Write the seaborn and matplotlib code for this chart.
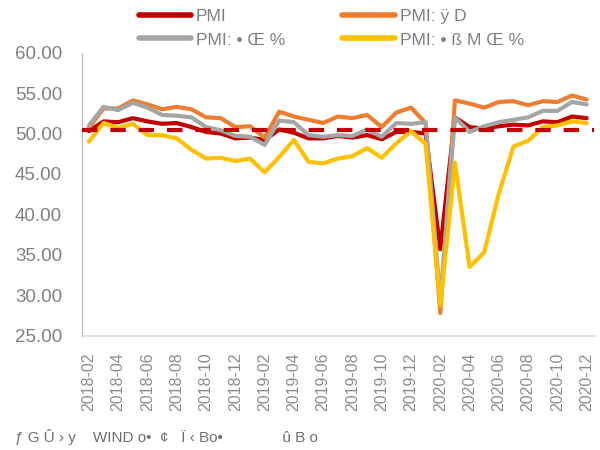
import matplotlib
matplotlib.use("Agg")
import matplotlib.pyplot as plt
import seaborn as sns
import pandas as pd
import numpy as np
from matplotlib.lines import Line2D

months = [f"{y}-{m:02d}" for y in (2018, 2019, 2020) for m in range(1, 13)][1:]

pmi = [50.3, 51.5, 51.4, 51.9, 51.5, 51.2, 51.3, 50.8, 50.2, 50.0, 49.4,
       49.5, 49.2, 50.5, 50.1, 49.4, 49.4, 49.7, 49.5, 49.8, 49.3, 50.2, 50.2,
       50.0, 35.7, 52.0, 50.8, 50.6, 50.9, 51.1, 51.0, 51.5, 51.4, 52.1, 51.9]
production = [50.7, 53.1, 53.1, 54.1, 53.6, 53.0, 53.3, 53.0, 52.0, 51.9, 50.8,
              50.9, 49.5, 52.7, 52.1, 51.7, 51.3, 52.1, 51.9, 52.3, 50.8, 52.6, 53.2,
              51.3, 27.8, 54.1, 53.7, 53.2, 53.9, 54.0, 53.5, 54.0, 53.9, 54.7, 54.2]
new_orders = [51.0, 53.3, 52.9, 53.8, 53.2, 52.3, 52.2, 52.0, 50.8, 50.4, 49.7,
              49.6, 48.6, 51.6, 51.4, 49.8, 49.6, 49.8, 49.7, 50.5, 49.6, 51.3, 51.2,
              51.4, 29.3, 52.0, 50.2, 50.9, 51.4, 51.7, 52.0, 52.8, 52.8, 53.9, 53.6]
export_orders = [49.0, 51.3, 50.7, 51.2, 49.8, 49.8, 49.4, 48.0, 46.9, 47.0, 46.6,
                 46.9, 45.2, 47.1, 49.2, 46.5, 46.3, 46.9, 47.2, 48.2, 47.0, 48.8, 50.3,
                 48.7, 28.7, 46.4, 33.5, 35.3, 42.6, 48.4, 49.1, 50.8, 51.0, 51.5, 51.3]
threshold = 50.4

series_names = ["PMI", "PMI: ÿ D", "PMI: • Œ %", "PMI: • ß M Œ %"]
series_values = [pmi, production, new_orders, export_orders]
colors = ["#C00000", "#ED7D31", "#A5A5A5", "#FFC000"]
source_text = "ƒ G Û › y    WIND o•  ¢   Ï ‹ Bo•              û B o"

sns.set_style("white")
plt.rcParams["font.family"] = ["Liberation Sans", "DejaVu Sans"]

rows = []
for name, vals in zip(series_names, series_values):
    for i, (m, v) in enumerate(zip(months, vals)):
        rows.append({"idx": i, "month": m, "series": name, "value": v})
df = pd.DataFrame(rows)

fig = plt.figure(figsize=(6, 4.5), dpi=100)
ax = fig.add_axes([0.136, 0.254, 0.854, 0.629])

sns.lineplot(data=df, x="idx", y="value", hue="series", hue_order=series_names,
             palette=colors, linewidth=3, ax=ax, legend=False, sort=False)

ax.axhline(threshold, color="#C00000", linewidth=3,
           linestyle=(0, (3.7, 3.1)), zorder=5)

ax.set_xlim(-0.5, len(months) - 0.5)
ax.set_ylim(25, 60)
ax.set_yticks(np.arange(25, 60.01, 5))
ax.set_yticklabels([f"{v:.2f}" for v in np.arange(25, 60.01, 5)])
ax.set_xticks(range(0, len(months), 2))
ax.set_xticklabels(months[::2], rotation=90)
ax.set_xticks(np.arange(-0.5, len(months), 2), minor=True)
ax.tick_params(axis="x", which="major", length=0, pad=12, labelsize=11.5, labelcolor="#8C8C8C")
ax.tick_params(axis="x", which="minor", length=4, width=1, color="#D9D9D9", direction="out")
ax.tick_params(axis="y", which="major", length=4, width=1, color="#BFBFBF", direction="in",
               pad=14, labelsize=13.5, labelcolor="#808080")
ax.set_xlabel("")
ax.set_ylabel("")

for s in ["top", "right"]:
    ax.spines[s].set_visible(False)
ax.spines["left"].set_color("#BFBFBF")
ax.spines["bottom"].set_color("#D9D9D9")
ax.spines["left"].set_linewidth(1)
ax.spines["bottom"].set_linewidth(1.2)

handles = [Line2D([], [], color=c, linewidth=4, solid_capstyle="round") for c in colors]
order = [0, 2, 1, 3]
leg = fig.legend([handles[i] for i in order], [series_names[i] for i in order],
                 ncol=2, loc="upper left", bbox_to_anchor=(0.205, 1.015),
                 frameon=False, fontsize=12.5, handlelength=3.0, handletextpad=0.3,
                 columnspacing=3.3, labelspacing=0.48)
for t in leg.get_texts():
    t.set_color("#808080")

fig.text(0.025, 0.028, source_text, fontsize=11, color="#6E6E6E", ha="left", va="center")

fig.savefig("out.png", dpi=100)
